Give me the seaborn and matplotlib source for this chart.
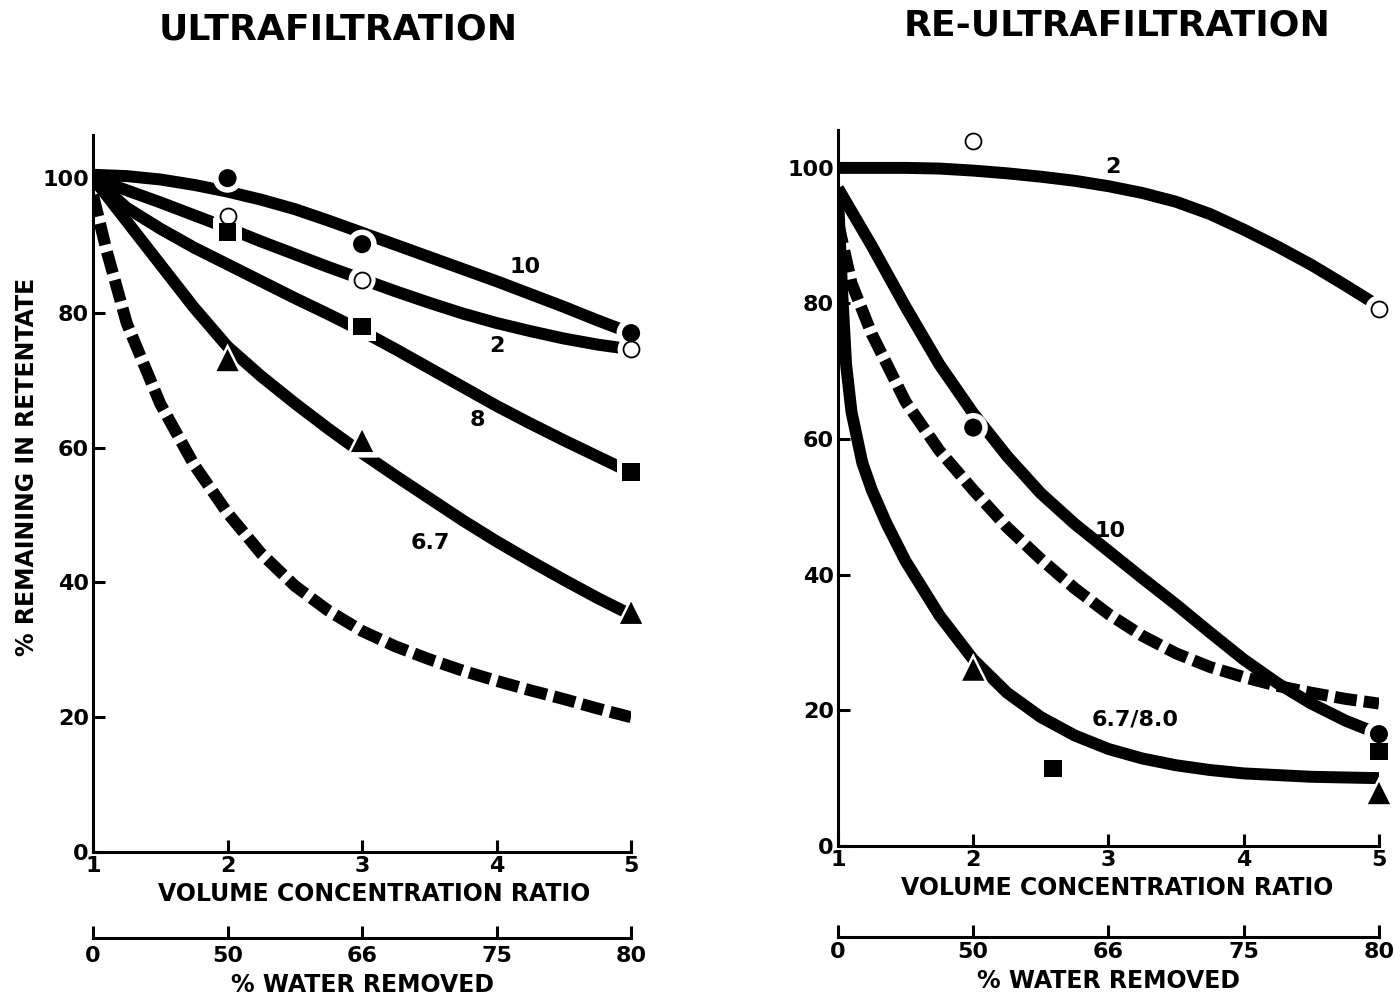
import matplotlib
matplotlib.use("Agg")
import matplotlib.pyplot as plt
import seaborn as sns

# ---- ultrafiltration (left) ----
uf_x = [1, 1.25, 1.5, 1.75, 2, 2.25, 2.5, 2.75, 3, 3.25, 3.5, 3.75, 4, 4.25, 4.5, 4.75, 5]
uf_fit_10 = [100.5, 100.3, 99.8, 99.0, 98.0, 96.8, 95.4, 93.7, 91.9, 90.1, 88.3, 86.5,
             84.7, 82.8, 80.9, 78.9, 77.0]
uf_fit_2 = [100, 98.2, 96.4, 94.5, 92.6, 90.6, 88.7, 86.8, 85.0, 83.2, 81.5, 79.9,
            78.5, 77.3, 76.2, 75.3, 74.6]
uf_fit_8 = [100, 95.6, 92.5, 89.7, 87.2, 84.7, 82.2, 79.8, 77.3, 74.6, 71.8, 69.0,
            66.2, 63.6, 61.1, 58.7, 56.3]
uf_fit_67 = [100, 93.6, 87.2, 80.8, 75.0, 70.6, 66.6, 62.8, 59.2, 55.8, 52.5, 49.2,
             46.1, 43.2, 40.4, 37.7, 35.2]
uf_dash_x = [1, 1.1, 1.25, 1.5, 1.75, 2, 2.25, 2.5, 2.75, 3, 3.25, 3.5, 3.75, 4, 4.25,
             4.5, 4.75, 5]
uf_dashed = [97.5, 89.3, 78.5, 66.5, 57.5, 50.3, 44.3, 39.5, 35.8, 32.8, 30.5, 28.6,
             26.9, 25.4, 24.0, 22.7, 21.3, 20.0]

uf_pts_x = [2, 3, 5]
uf_filled_circle = [100, 90.2, 77]
uf_open_circle = [94.4, 84.9, 74.6]
uf_square = [92, 78, 56.4]
uf_triangle = [73, 61, 35.5]

# ---- re-ultrafiltration (right) ----
ruf_x = [1, 1.25, 1.5, 1.75, 2, 2.25, 2.5, 2.75, 3, 3.25, 3.5, 3.75, 4, 4.25, 4.5, 4.75, 5]
ruf_fit_2 = [100, 100, 100, 99.9, 99.6, 99.2, 98.7, 98.1, 97.3, 96.3, 95.0, 93.2,
             90.9, 88.4, 85.7, 82.7, 79.6]
ruf_fit_10 = [97, 88.5, 79.5, 71, 63.8, 57.5, 52, 47.5, 43.5, 39.5, 35.6, 31.5,
              27.5, 24, 21, 18.5, 16.5]
ruf_dash_x = [1, 1.1, 1.25, 1.5, 1.75, 2, 2.25, 2.5, 2.75, 3, 3.25, 3.5, 3.75, 4, 4.25,
              4.5, 4.75, 5]
ruf_dashed = [92, 83, 75.5, 65.5, 58.3, 52.5, 47, 42.3, 38, 34.2, 31, 28.4, 26.4, 24.9,
              23.6, 22.6, 21.7, 21]
ruf_low_x = [1, 1.03, 1.06, 1.1, 1.18, 1.25, 1.36, 1.5, 1.75, 2, 2.25, 2.5, 2.75, 3,
             3.25, 3.5, 3.75, 4, 4.5, 5]
ruf_fit_678 = [96, 82, 71, 64, 56.5, 52.5, 47.5, 42, 34, 27.5, 22.6, 19, 16.3, 14.3,
               12.9, 11.9, 11.2, 10.7, 10.2, 10]

ruf_pts_x = [2, 5]
ruf_open_circle = [104, 79.2]
ruf_filled_circle = [61.7, 16.5]
ruf_triangle = [26, 7.8]
ruf_square_x = [2.59, 5]
ruf_square = [11.4, 13.9]

vcr_ticks = [1, 2, 3, 4, 5]
water_labels = ["0", "50", "66", "75", "80"]
y_ticks = [0, 20, 40, 60, 80, 100]

sns.set_style("ticks")
plt.rcParams["font.family"] = ["DejaVu Sans"]
plt.rcParams["font.weight"] = "bold"
for key in ["text.color", "axes.labelcolor", "xtick.color", "ytick.color",
            "axes.edgecolor"]:
    plt.rcParams[key] = "black"

LW = 8.6
DASH = (0, (1.85, 0.6))
TICK_FS = 16
LABEL_FS = 17


def curve(ax, x, y, dashed=False):
    sns.lineplot(x=x, y=y, ax=ax, color="black", lw=LW, sort=False,
                 linestyle=DASH if dashed else "-", solid_capstyle="butt",
                 dash_capstyle="butt", solid_joinstyle="round", zorder=2)


def marks(ax, x, y, marker, size, hollow=False):
    # white halo breaks the line around each symbol
    sns.scatterplot(x=x, y=y, ax=ax, marker=marker, s=(size + 8) ** 2,
                    color="white", edgecolor="none", zorder=3, clip_on=False)
    if hollow:
        sns.scatterplot(x=x, y=y, ax=ax, marker=marker, s=size ** 2,
                        color="white", edgecolor="black", linewidth=1.3,
                        zorder=4, clip_on=False)
    else:
        sns.scatterplot(x=x, y=y, ax=ax, marker=marker, s=size ** 2,
                        color="black", edgecolor="none", zorder=4, clip_on=False)


def style_axes(ax, ytop, sec_loc, sec_pad, label_x):
    ax.set_xlim(1, 5)
    ax.set_ylim(0, ytop)
    sns.despine(ax=ax)
    for s in ["left", "bottom"]:
        ax.spines[s].set_linewidth(2.2)
    ax.set_xticks(vcr_ticks)
    ax.set_yticks(y_ticks)
    ax.tick_params(direction="in", length=8.5, width=2.2, labelsize=TICK_FS, pad=3)
    ax.set_xlabel("VOLUME CONCENTRATION RATIO", fontsize=LABEL_FS,
                  fontweight="bold", labelpad=4)
    ax.xaxis.label.set_x(label_x)
    ax.set_ylabel("")
    sec = ax.secondary_xaxis(sec_loc)
    sec.set_xticks(vcr_ticks, labels=water_labels)
    sec.spines["bottom"].set_linewidth(2.2)
    sec.tick_params(direction="in", length=8.5, width=2.2, labelsize=TICK_FS,
                    pad=sec_pad)
    sec.set_xlabel("% WATER REMOVED", fontsize=LABEL_FS, fontweight="bold",
                   labelpad=5)


fig = plt.figure(figsize=(13.95, 9.97), dpi=100)
ax1 = fig.add_axes([0.0667, 0.1454, 0.3857, 0.7192])
ax2 = fig.add_axes([0.6007, 0.1515, 0.3878, 0.7182])

# left panel
curve(ax1, uf_dash_x, uf_dashed, dashed=True)
curve(ax1, uf_x, uf_fit_10)
curve(ax1, uf_x, uf_fit_2)
curve(ax1, uf_x, uf_fit_8)
curve(ax1, uf_x, uf_fit_67)
marks(ax1, uf_pts_x, uf_filled_circle, "o", 13)
marks(ax1, uf_pts_x, uf_open_circle, "o", 11.5, hollow=True)
marks(ax1, uf_pts_x, uf_square, "s", 12.5)
marks(ax1, uf_pts_x, uf_triangle, "^", 16)
for lx, ly, txt in [(4.21, 86.8, "10"), (4.0, 75.1, "2"),
                    (3.86, 64.1, "8"), (3.51, 45.8, "6.7")]:
    ax1.text(lx, ly, txt, fontsize=16, fontweight="bold", ha="center", va="center")
style_axes(ax1, 106.4, -0.12, 6, 0.522)

# right panel
curve(ax2, ruf_dash_x, ruf_dashed, dashed=True)
curve(ax2, ruf_x, ruf_fit_2)
curve(ax2, ruf_x, ruf_fit_10)
curve(ax2, ruf_low_x, ruf_fit_678)
marks(ax2, ruf_pts_x, ruf_filled_circle, "o", 13)
marks(ax2, ruf_pts_x, ruf_open_circle, "o", 11.5, hollow=True)
marks(ax2, ruf_square_x, ruf_square, "s", 12.5)
marks(ax2, ruf_pts_x, ruf_triangle, "^", 16)
for lx, ly, txt in [(3.03, 100.1, "2"), (3.01, 46.5, "10"), (3.2, 18.6, "6.7/8.0")]:
    ax2.text(lx, ly, txt, fontsize=16, fontweight="bold", ha="center", va="center")
style_axes(ax2, 105.6, -0.127, 4, 0.516)

fig.text(338 / 1395, 1 - 30 / 997, "ULTRAFILTRATION", fontsize=26,
         fontweight="bold", ha="center", va="center")
fig.text(1117 / 1395, 1 - 25 / 997, "RE-ULTRAFILTRATION", fontsize=26,
         fontweight="bold", ha="center", va="center")
fig.text(27 / 1395, 1 - 467 / 997, "% REMAINING IN RETENTATE", fontsize=17,
         fontweight="bold", rotation=90, ha="center", va="center")

fig.savefig("out.png", dpi=100, facecolor="white")
